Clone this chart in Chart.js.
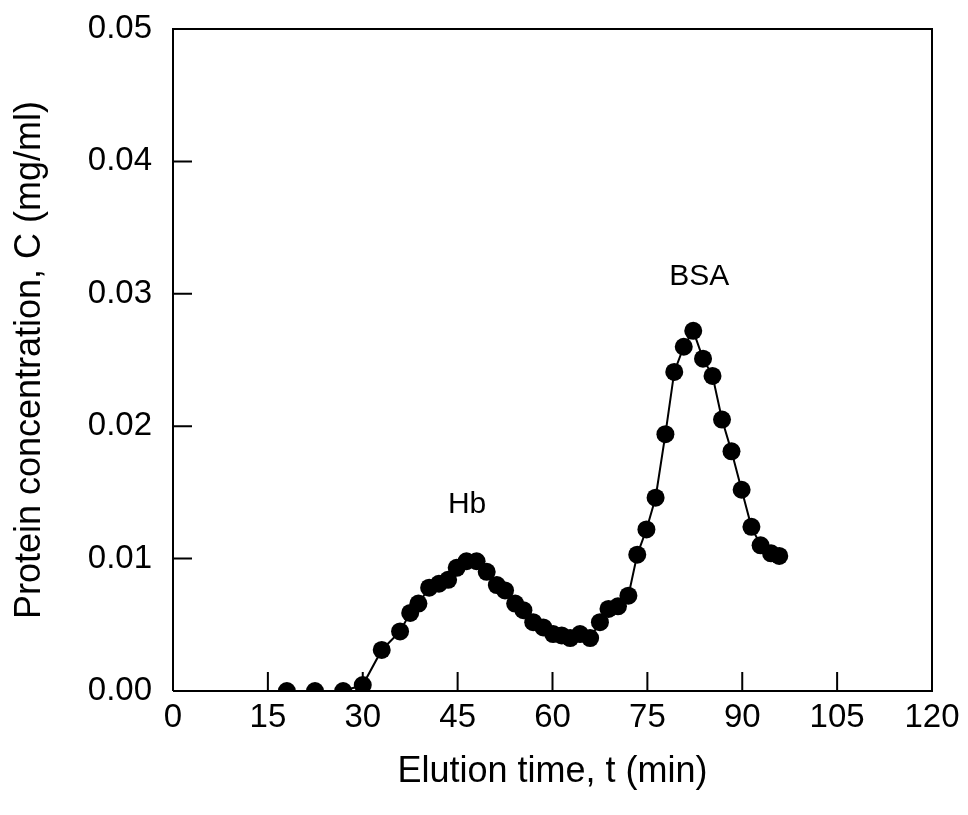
<!DOCTYPE html>
<html>
<head>
<meta charset="utf-8">
<script src="https://cdn.jsdelivr.net/npm/chart.js@4.4.1/dist/chart.umd.min.js"></script>
<style>
  html, body { margin: 0; padding: 0; background: #fff; }
  #wrap { width: 968px; height: 815px; }
</style>
</head>
<body>
<div id="wrap"><canvas id="elution_chart"></canvas></div>
<script>
// elution time (min) and protein concentration (mg/ml)
let elution_time = [18.0, 22.45, 26.9, 30.0, 33.0, 35.9, 37.5, 38.8, 40.5, 42.05, 43.5, 44.85,
    46.4, 48.0, 49.6, 51.2, 52.5, 54.1, 55.4, 56.95, 58.55, 60.1, 61.45, 62.8, 64.35, 65.95,
    67.5, 68.85, 70.35, 72.0, 73.4, 74.85, 76.3, 77.85, 79.25, 80.75, 82.25, 83.8, 85.3, 86.8,
    88.3, 89.9, 91.45, 92.9, 94.55, 95.85];
let concentration = [0.0, 0.0, 0.0, 0.00045, 0.0031, 0.0045, 0.0059, 0.0066, 0.0078, 0.0081, 0.0084, 0.0093,
    0.0098, 0.0098, 0.0090, 0.0080, 0.0076, 0.0066, 0.0061, 0.0052, 0.0048, 0.0043, 0.0042, 0.0040, 0.0043, 0.0040,
    0.0052, 0.0062, 0.0064, 0.0072, 0.0103, 0.0122, 0.0146, 0.0194, 0.0241, 0.0260, 0.0272, 0.0251, 0.0238, 0.0205,
    0.0181, 0.0152, 0.0124, 0.0110, 0.0104, 0.0102];

let peak_labels = ['Hb', 'BSA'];
let peak_label_x = [46.5, 83.2];
let peak_label_y = [0.01405, 0.03127];

let x_ticks = [0, 15, 30, 45, 60, 75, 90, 105, 120];
let y_ticks = [0.00, 0.01, 0.02, 0.03, 0.04, 0.05];

let points = elution_time.map((t, i) => ({ x: t, y: concentration[i] }));

const font_family = 'Liberation Sans, Arial, sans-serif';

// inward ticks, top/right frame and the peak names
const frame_plugin = {
    id: 'frame_plugin',
    afterDraw(chart) {
        const ctx = chart.ctx;
        const area = chart.chartArea;
        const xs = chart.scales.x;
        const ys = chart.scales.y;
        ctx.save();
        ctx.strokeStyle = '#000';
        ctx.lineWidth = 2;
        ctx.beginPath();
        ctx.moveTo(area.left, area.bottom);
        ctx.lineTo(area.left, area.top);
        ctx.lineTo(area.right, area.top);
        ctx.lineTo(area.right, area.bottom);
        ctx.lineTo(area.left, area.bottom);
        ctx.stroke();
        ctx.beginPath();
        for (let v of x_ticks.slice(1, -1)) {
            let px = xs.getPixelForValue(v);
            ctx.moveTo(px, area.bottom);
            ctx.lineTo(px, area.bottom - 19);
        }
        for (let v of y_ticks.slice(1, -1)) {
            let py = ys.getPixelForValue(v);
            ctx.moveTo(area.left, py);
            ctx.lineTo(area.left + 19, py);
        }
        ctx.stroke();

        ctx.fillStyle = '#000';
        ctx.font = '30px ' + font_family;
        ctx.textAlign = 'center';
        ctx.textBaseline = 'middle';
        peak_labels.forEach((lab, i) => {
            ctx.fillText(lab, xs.getPixelForValue(peak_label_x[i]), ys.getPixelForValue(peak_label_y[i]));
        });
        ctx.restore();
    }
};

var elution_context = document.getElementById('elution_chart').getContext('2d');
var elution_chart = new Chart(elution_context, {
    type: 'scatter',
    data: {
        datasets: [{
            data: points,
            showLine: true,
            borderColor: '#000',
            borderWidth: 2,
            tension: 0,
            pointRadius: 9,
            pointHoverRadius: 9,
            pointBackgroundColor: '#000',
            pointBorderColor: '#000',
            pointBorderWidth: 0
        }]
    },
    options: {
        responsive: true,
        maintainAspectRatio: false,
        animation: false,
        layout: { padding: { top: 29, right: 36, left: 0, bottom: 0 } },
        plugins: {
            legend: { display: false },
            tooltip: { enabled: false }
        },
        scales: {
            x: {
                type: 'linear',
                min: 0,
                max: 120,
                afterFit: function (scale) {
                    scale.height = 124;
                    scale.paddingLeft = 0;
                    scale.paddingRight = 0;
                },
                afterBuildTicks: function (scale) { scale.ticks = x_ticks.map(v => ({ value: v })); },
                grid: { display: false, drawTicks: false },
                border: { display: false },
                ticks: {
                    color: '#000',
                    padding: 7,
                    maxRotation: 0,
                    font: { size: 33, family: font_family },
                    callback: v => v.toString()
                },
                title: {
                    display: true,
                    text: 'Elution time, t (min)',
                    color: '#000',
                    padding: { top: 10, bottom: 21 },
                    font: { size: 36, family: font_family }
                }
            },
            y: {
                type: 'linear',
                min: 0,
                max: 0.05,
                afterFit: function (scale) {
                    scale.width = 173;
                    scale.paddingTop = 0;
                    scale.paddingBottom = 0;
                },
                afterBuildTicks: function (scale) { scale.ticks = y_ticks.map(v => ({ value: v })); },
                grid: { display: false, drawTicks: false },
                border: { display: false },
                ticks: {
                    color: '#000',
                    padding: 21,
                    font: { size: 33, family: font_family },
                    callback: v => Number(v).toFixed(2)
                },
                title: {
                    display: true,
                    text: 'Protein concentration, C (mg/ml)',
                    color: '#000',
                    padding: { top: 8, bottom: 4 },
                    font: { size: 36, family: font_family }
                }
            }
        }
    },
    plugins: [frame_plugin]
});
</script>
</body>
</html>
